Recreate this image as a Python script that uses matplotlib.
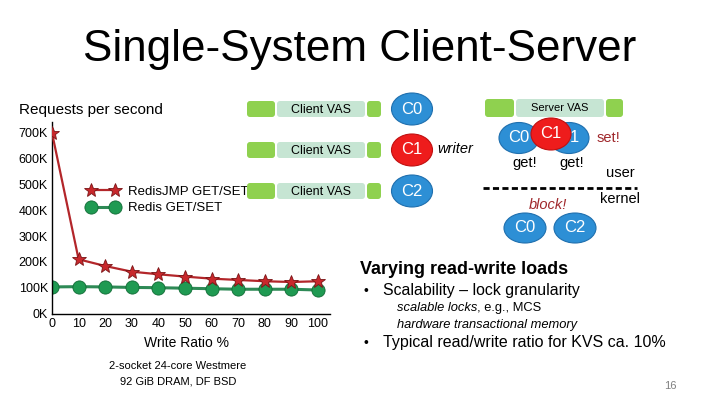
import matplotlib
matplotlib.use("Agg")
import matplotlib.pyplot as plt
from matplotlib.patches import FancyBboxPatch, Ellipse

plt.rcParams['font.family'] = ['Liberation Sans', 'DejaVu Sans']

# chart data
write_ratio = [0, 10, 20, 30, 40, 50, 60, 70, 80, 90, 100]
redis_jmp = [700, 210, 184, 162, 152, 143, 135, 130, 125, 122, 125]  # K req/s
redis = [103, 104, 103, 101, 100, 98, 96, 94, 94, 94, 91]
y_ticks = [0, 100, 200, 300, 400, 500, 600, 700]
y_tick_labels = ['0K', '100K', '200K', '300K', '400K', '500K', '600K', '700K']
x_ticks = [0, 10, 20, 30, 40, 50, 60, 70, 80, 90, 100]

RED_LINE = '#b3262a'
RED_FILL = '#c8282c'
GREEN_FILL = '#1f9a52'
GREEN_EDGE = '#0f6a34'
BOX_GREEN = '#8fd14f'
BOX_LIGHT = '#c6e5d3'
BLUE = '#2d8fd5'
BLUE_EDGE = '#1f6fae'
RED = '#ee1c1c'
DARK_RED = '#a0282c'

fig = plt.figure(figsize=(7.2, 4.05), dpi=100)

# ---- the chart ----
ax = fig.add_axes([52 / 720, 1 - 313.5 / 405, 278 / 720, 191.5 / 405])
ax.plot(write_ratio, redis_jmp, color=RED_LINE, lw=1.6, marker='*',
        markersize=10, markerfacecolor=RED_FILL, markeredgecolor='#7a1416',
        markeredgewidth=0.6, label='RedisJMP GET/SET', zorder=3)
ax.plot(write_ratio, redis, color='#2e8a56', lw=2.2, marker='o',
        markersize=9.5, markerfacecolor=GREEN_FILL, markeredgecolor=GREEN_EDGE,
        markeredgewidth=0.6, label='Redis GET/SET', zorder=2)
ax.set_xlim(0, 104.5)
ax.set_ylim(0, 742)
ax.set_yticks(y_ticks)
ax.set_yticklabels(y_tick_labels)
ax.set_xticks(x_ticks)
ax.tick_params(length=0, labelsize=9, pad=3)
for s in ['top', 'right']:
    ax.spines[s].set_visible(False)
for s in ['left', 'bottom']:
    ax.spines[s].set_linewidth(1.0)
    ax.spines[s].set_color('black')
ax.patch.set_alpha(0)
ax.legend(loc='center left', bbox_to_anchor=(87 / 720, 1 - 200 / 405),
          bbox_transform=fig.transFigure, frameon=False, fontsize=9.5,
          numpoints=2, handlelength=2.4, handletextpad=0.7,
          labelspacing=0.3, borderpad=0, borderaxespad=0)

# ---- slide overlay in pixel coordinates ----
ov = fig.add_axes([0, 0, 1, 1], zorder=5)
ov.set_xlim(0, 720)
ov.set_ylim(405, 0)
ov.axis('off')
ov.patch.set_alpha(0)


def rbox(x0, y0, x1, y1, color):
    ov.add_patch(FancyBboxPatch((x0, y0), x1 - x0, y1 - y0,
                                boxstyle='round,pad=0,rounding_size=3',
                                fc=color, ec='none'))


def oval(cx, cy, w, h, color, edge, label, z=2, fs=12):
    ov.add_patch(Ellipse((cx, cy), w, h, fc=color, ec=edge, lw=0.8, zorder=z))
    ov.text(cx, cy, label, color='white', fontsize=fs, ha='center',
            va='center', zorder=z + 0.5)


ov.text(360, 50, 'Single-System Client-Server', fontsize=31.7, ha='center',
        va='center')
ov.text(19, 110, 'Requests per second', fontsize=11, ha='left', va='center')

# client rows
rows = [(109, 'C0', BLUE, BLUE_EDGE), (150, 'C1', RED, '#c01010'),
        (191, 'C2', BLUE, BLUE_EDGE)]
for cy, lab, col, edge in rows:
    rbox(247, cy - 8, 275, cy + 8, BOX_GREEN)
    rbox(277, cy - 8, 365, cy + 8, BOX_LIGHT)
    ov.text(321, cy + 1, 'Client VAS', fontsize=9, ha='center', va='center')
    rbox(367, cy - 8, 381, cy + 8, BOX_GREEN)
    oval(412, cy, 41, 32, col, edge, lab)
ov.text(437, 149, 'writer', fontsize=10.5, style='italic', ha='left',
        va='center')

# server side
rbox(485, 99, 514, 117, BOX_GREEN)
rbox(516, 99, 604, 117, BOX_LIGHT)
rbox(606, 99, 623, 117, BOX_GREEN)
ov.text(560, 108, 'Server VAS', fontsize=8, ha='center', va='center')
oval(519, 138, 40, 31, BLUE, BLUE_EDGE, 'C0', z=2)
oval(569, 138, 40, 31, BLUE, BLUE_EDGE, 'C1', z=3)
oval(551, 134, 40, 32, RED, '#c01010', 'C1', z=4)
ov.text(597, 138, 'set!', fontsize=10.5, color=DARK_RED, ha='left',
        va='center')
ov.text(525, 163, 'get!', fontsize=10.5, ha='center', va='center')
ov.text(572, 163, 'get!', fontsize=10.5, ha='center', va='center')
ov.text(620, 173, 'user', fontsize=10.5, ha='center', va='center')
ov.plot([483, 637], [188, 188], color='black', lw=2, ls=(0, (2.2, 1.2)))
ov.text(620, 199, 'kernel', fontsize=10.5, ha='center', va='center')
ov.text(548, 205, 'block!', fontsize=10.5, color=DARK_RED, style='italic',
        ha='center', va='center')
oval(525, 228, 42, 30, BLUE, BLUE_EDGE, 'C0')
oval(575, 228, 42, 30, BLUE, BLUE_EDGE, 'C2')

# bullet text
ov.text(360, 270, 'Varying read-write loads', fontsize=13, weight='bold',
        ha='left', va='center')
ov.text(364, 291, '•', fontsize=10, ha='left', va='center')
ov.text(383, 291, 'Scalability – lock granularity', fontsize=11.4,
        ha='left', va='center')
ov.text(397, 308, 'scalable locks', fontsize=9.3, style='italic', ha='left',
        va='center')
ov.text(477, 308, ', e.g., MCS', fontsize=9.3, ha='left', va='center')
ov.text(397, 325, 'hardware transactional memory', fontsize=9.3,
        style='italic', ha='left', va='center')
ov.text(364, 343, '•', fontsize=10, ha='left', va='center')
ov.text(383, 343, 'Typical read/write ratio for KVS ca. 10%', fontsize=11.5,
        ha='left', va='center')
ov.text(670, 386, '16', fontsize=8, color='#808080', ha='center',
        va='center')

ov.text(187, 343, 'Write Ratio %', fontsize=10, ha='center', va='center')
ov.text(178, 366, '2-socket 24-core Westmere', fontsize=8, ha='center',
        va='center')
ov.text(178, 382, '92 GiB DRAM, DF BSD', fontsize=8, ha='center',
        va='center')

fig.savefig('out.png', dpi=100)
